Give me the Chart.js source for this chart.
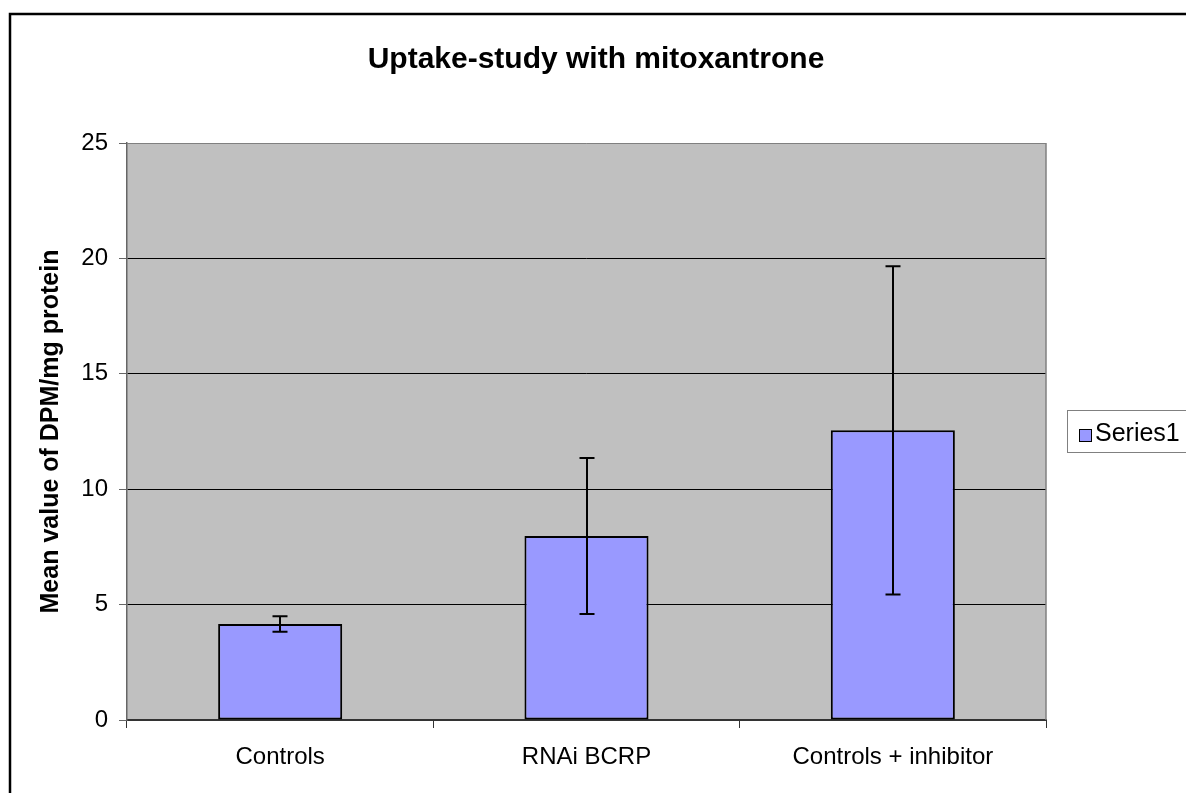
<!DOCTYPE html>
<html>
<head>
    <title>Uptake-study with mitoxantrone</title>
    <script src="https://cdn.jsdelivr.net/npm/chart.js"></script>
    <style>
        body {
            margin: 0;
            background: #fff;
        }
        .chart-container {
            position: relative;
            width: 1186px;
            height: 793px;
        }
    </style>
</head>
<body>
    <div class="chart-container">
        <canvas id="uptakeChart"></canvas>
    </div>

    <script>
        var categories = ['Controls', 'RNAi BCRP', 'Controls + inhibitor'];
        var meanValues = [4.16, 7.97, 12.55];
        var errorValues = [0.34, 3.38, 7.11];
        var seriesName = 'Series1';

        var fontFamily = 'Arial, "Liberation Sans", sans-serif';
        Chart.defaults.font.family = fontFamily;
        Chart.defaults.color = '#000';

        // plot background, outer frame, error bars and legend box
        var decorPlugin = {
            id: 'decor',
            beforeDraw: function(chart) {
                var ctx = chart.ctx;
                var a = chart.chartArea;
                ctx.save();
                ctx.fillStyle = '#fff';
                ctx.fillRect(0, 0, chart.width, chart.height);
                ctx.strokeStyle = '#000';
                ctx.lineWidth = 2.5;
                ctx.strokeRect(10, 14, chart.width + 40, chart.height + 40);
                ctx.fillStyle = '#c0c0c0';
                ctx.fillRect(a.left, a.top, a.right - a.left, a.bottom - a.top);
                ctx.restore();
            },
            afterDatasetsDraw: function(chart) {
                var ctx = chart.ctx;
                var xs = chart.scales.x;
                var ys = chart.scales.y;
                ctx.save();
                ctx.strokeStyle = '#000';
                ctx.lineWidth = 2;
                meanValues.forEach(function(m, i) {
                    var px = Math.round(xs.getPixelForValue(i));
                    var top = ys.getPixelForValue(m + errorValues[i]);
                    var bot = ys.getPixelForValue(m - errorValues[i]);
                    ctx.beginPath();
                    ctx.moveTo(px, top);
                    ctx.lineTo(px, bot);
                    ctx.moveTo(px - 7.5, top);
                    ctx.lineTo(px + 7.5, top);
                    ctx.moveTo(px - 7.5, bot);
                    ctx.lineTo(px + 7.5, bot);
                    ctx.stroke();
                });
                ctx.restore();
            },
            afterDraw: function(chart) {
                var ctx = chart.ctx;
                var a = chart.chartArea;
                ctx.save();
                // right edge of plot area
                ctx.strokeStyle = '#808080';
                ctx.lineWidth = 1.5;
                ctx.beginPath();
                ctx.moveTo(a.right, a.top);
                ctx.lineTo(a.right, a.bottom);
                ctx.stroke();

                // legend
                var lx = 1067, ly = 410, lh = 42;
                ctx.strokeStyle = '#808080';
                ctx.lineWidth = 1;
                ctx.strokeRect(lx + 0.5, ly + 0.5, 200, lh);
                ctx.fillStyle = '#9999ff';
                ctx.fillRect(1079, 429, 12, 12);
                ctx.strokeStyle = '#000';
                ctx.strokeRect(1079.5, 429.5, 12, 12);
                ctx.fillStyle = '#000';
                ctx.font = '25px ' + fontFamily;
                ctx.textBaseline = 'middle';
                ctx.textAlign = 'left';
                ctx.fillText(seriesName, 1095, ly + lh / 2 + 3);
                ctx.restore();
            }
        };

        var ctx = document.getElementById('uptakeChart').getContext('2d');
        var uptakeChart = new Chart(ctx, {
            type: 'bar',
            data: {
                labels: categories,
                datasets: [{
                    label: seriesName,
                    data: meanValues,
                    backgroundColor: '#9999ff',
                    borderColor: '#000',
                    borderWidth: 2,
                    borderSkipped: false,
                    barPercentage: 0.405,
                    categoryPercentage: 1
                }]
            },
            options: {
                responsive: true,
                maintainAspectRatio: false,
                animation: false,
                layout: {
                    padding: { left: 6, right: 0, top: 0, bottom: 0 }
                },
                plugins: {
                    legend: { display: false },
                    tooltip: { enabled: false },
                    title: {
                        display: true,
                        text: 'Uptake-study with mitoxantrone',
                        color: '#000',
                        font: { size: 30, weight: 'bold' },
                        padding: { top: 42, bottom: 65 }
                    }
                },
                scales: {
                    x: {
                        grid: {
                            display: true,
                            drawOnChartArea: false,
                            drawTicks: true,
                            tickLength: 8,
                            tickColor: '#333',
                            offset: true
                        },
                        border: { display: true, color: '#333', width: 2 },
                        ticks: {
                            font: { size: 24 },
                            color: '#000',
                            padding: 15,
                            maxRotation: 0
                        },
                        afterFit: function(scale) { scale.height = 73; }
                    },
                    y: {
                        min: 0,
                        max: 25,
                        ticks: {
                            stepSize: 5,
                            font: { size: 24 },
                            color: '#000',
                            padding: 11
                        },
                        grid: {
                            color: function(c) { return c.tick && c.tick.value === 25 ? '#808080' : '#000'; },
                            lineWidth: 1,
                            tickLength: 8,
                            tickColor: '#666'
                        },
                        border: { display: true, color: '#666', width: 1.5 },
                        title: {
                            display: true,
                            text: 'Mean value of DPM/mg protein',
                            color: '#000',
                            font: { size: 25, weight: 'bold' },
                            padding: { top: 30, bottom: 0 }
                        },
                        afterFit: function(scale) { scale.width = 121; }
                    },
                    yRight: {
                        position: 'right',
                        display: true,
                        grid: { display: false },
                        border: { display: false },
                        ticks: { display: false },
                        afterFit: function(scale) { scale.width = 140; }
                    }
                }
            },
            plugins: [decorPlugin]
        });
    </script>
</body>
</html>
